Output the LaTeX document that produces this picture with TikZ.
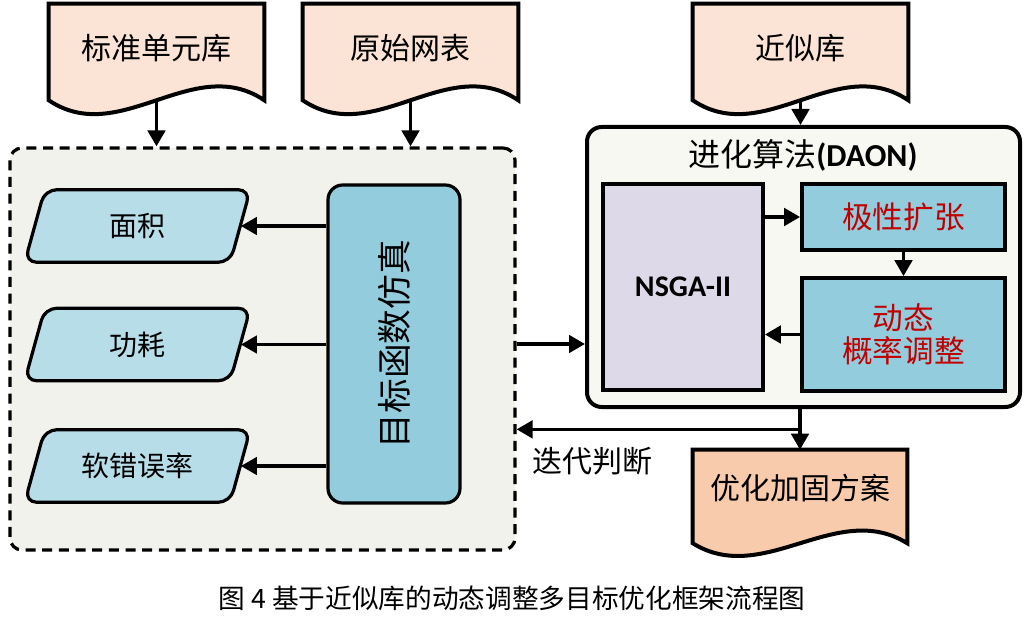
\documentclass[tikz,border=0pt]{standalone}
\usepackage{fontspec}
\setmainfont{Noto Sans CJK SC}
\newfontfamily\carl{Carlito}
\usetikzlibrary{arrows.meta,calc}
\pgfdeclarelayer{bg}
\pgfdeclarelayer{mid}
\pgfsetlayers{bg,mid,main}
\definecolor{peach}{HTML}{FBE4D5}
\definecolor{peachdark}{HTML}{F8CBAD}
\definecolor{lblue}{HTML}{B7DEE8}
\definecolor{mblue}{HTML}{93CDDD}
\definecolor{lav}{HTML}{DDD9E8}
\definecolor{dashfill}{HTML}{F2F2EC}
\definecolor{daonfill}{HTML}{F8F8F3}
\definecolor{redtxt}{HTML}{C00000}
\tikzset{
  arr/.style={line width=2.8pt,-{Triangle[length=12pt,width=13pt]}},
  docnode/.style={inner sep=0pt,minimum width=161.25pt,font=\fontsize{22.5}{27}\selectfont},
  paranode/.style={inner sep=0pt,minimum width=168.75pt,minimum height=54pt,font=\fontsize{21}{25}\selectfont},
  innerbox/.style={draw,line width=2.8pt,inner sep=0pt},
}
\newcommand\docshape[4]{% name, extra px, fill, amplitude
  \draw[line width=3pt,fill=#3,line join=miter]
    (#1.north west) -- (#1.north east) -- ($(#1.south east)+(0,#2)$)
    .. controls ($(#1.south east)!0.33!(#1.south west)+(0,#2-#4)$)
    and ($(#1.south east)!0.67!(#1.south west)+(0,#2+#4)$)
    .. ($(#1.south west)+(0,#2)$) -- cycle;}
\newcommand\parashape[1]{%
  \draw[line width=2.4pt,fill=lblue,rounded corners=9pt]
    ($(#1.north west)+(20,0)$) -- (#1.north east) -- ($(#1.south east)+(-20,0)$)
    -- (#1.south west) -- cycle;}
\begin{document}
\begin{tikzpicture}[x=0.75pt,y=-0.75pt]
\useasboundingbox (0,0) rectangle (1024,624);
\begin{pgfonlayer}{bg}
  \node[draw,line width=2.4pt,dash pattern=on 7.5pt off 5pt,rounded corners=9pt,fill=dashfill,
        minimum width=378.75pt,minimum height=301.5pt] (dbox) at (262.5,349) {};
  \node[draw,line width=3pt,rounded corners=11pt,fill=daonfill,
        minimum width=324.75pt,minimum height=210pt] (daon) at (803.5,267) {};
\end{pgfonlayer}
% documents
\node[docnode,minimum height=66pt] (doc1) at (156.5,48) {标准单元库};
\node[docnode,minimum height=66pt] (doc2) at (410.5,48) {原始网表};
\node[docnode,minimum height=66pt] (doc3) at (800.5,48) {近似库};
\node[docnode,minimum width=160.5pt,minimum height=57pt] (out) at (800,488) {优化加固方案};
\begin{pgfonlayer}{mid}
  \docshape{doc1}{8}{peach}{48}
  \docshape{doc2}{8}{peach}{48}
  \docshape{doc3}{8}{peach}{48}
  \docshape{out}{17}{peachdark}{44}
\end{pgfonlayer}
% parallelograms
\node[paranode] (p1) at (137.5,226) {面积};
\node[paranode] (p2) at (137.5,344.5) {功耗};
\node[paranode] (p3) at (137.5,466) {软错误率};
\begin{pgfonlayer}{mid}
  \parashape{p1}
  \parashape{p2}
  \parashape{p3}
\end{pgfonlayer}
\node[draw,line width=2.4pt,rounded corners=11pt,fill=mblue,minimum width=99pt,minimum height=238.5pt,
      inner sep=0pt,font=\fontsize{26}{30}\selectfont] (sim) at (394,344) {\rotatebox{90}{目标函数仿真}};
% DAON internals
\node[font=\fontsize{24}{28}\selectfont] (title) at (803,155) {进化算法{\carl\bfseries (DAON)}};
\node[innerbox,fill=lav,minimum width=120pt,minimum height=154.5pt,font=\carl\bfseries\fontsize{22.5}{27}\selectfont] (nsga) at (683,287) {NSGA-II};
\node[innerbox,fill=mblue,minimum width=152.25pt,minimum height=49.5pt,text=redtxt,font=\fontsize{23}{27}\selectfont] (pol) at (903.5,217) {极性扩张};
\node[innerbox,fill=mblue,minimum width=152.25pt,minimum height=84.75pt,text=redtxt,align=center,font=\fontsize{23}{25}\selectfont] (dyn) at (903.5,334.5) {动态\\概率调整};
\node[font=\fontsize{22.5}{27}\selectfont] (iter) at (592,461) {迭代判断};
\node[font=\fontsize{20}{24}\selectfont] (cap) at (512,598) {图 4 基于近似库的动态调整多目标优化框架流程图};
% connectors
\draw[arr] ([yshift=-6pt]doc1.south) -- (doc1.south |- dbox.north);
\draw[arr] ([yshift=-6pt]doc2.south) -- (doc2.south |- dbox.north);
\draw[arr] ([yshift=-6pt]doc3.south) -- (doc3.south |- daon.north);
\draw[arr] (sim.west |- p1) -- ([xshift=-7pt]p1.east);
\draw[arr] (sim.west |- p2) -- ([xshift=-7pt]p2.east);
\draw[arr] (sim.west |- p3) -- ([xshift=-7pt]p3.east);
\draw[arr] (sim.east -| dbox.east) -- (sim.east -| daon.west);
\draw[arr] (pol.west -| nsga.east) -- (pol.west);
\draw[arr] (pol.south) -- (dyn.north);
\draw[arr] (dyn.west) -- (dyn.west -| nsga.east);
\draw[arr] (out.north |- daon.south) -- (out.north);
\coordinate (br) at ($(out.north |- daon.south)!0.5!(out.north)$);
\draw[arr] (br) -- (br -| dbox.east);
\end{tikzpicture}
\end{document}
